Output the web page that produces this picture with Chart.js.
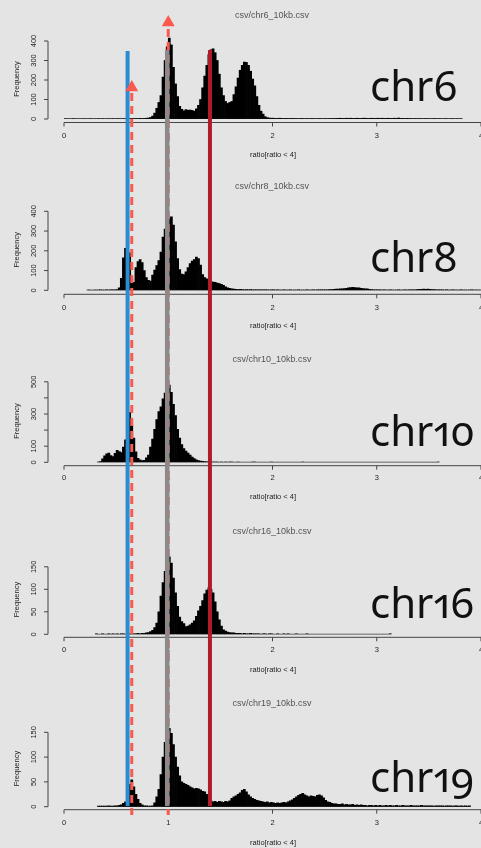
<!DOCTYPE html>
<html>
<head>
<meta charset="utf-8">
<script src="https://cdn.jsdelivr.net/npm/chart.js@4.4.1/dist/chart.umd.min.js"></script>
<style>
  html, body { margin: 0; padding: 0; background: #e4e4e4; overflow: hidden; }
  #page { position: relative; width: 481px; height: 848px; }
  #page canvas { position: absolute; left: 0; top: 0; }
  .chr { position: absolute; left: 370px; font-family: "Noto Sans"; font-size: 42px; line-height: 42px;
         font-variant-numeric: oldstyle-nums proportional-nums; color: #111; white-space: nowrap; }
</style>
</head>
<body>
<div id="page">
  <canvas id="h0" width="481" height="848"></canvas>
  <canvas id="h1" width="481" height="848"></canvas>
  <canvas id="h2" width="481" height="848"></canvas>
  <canvas id="h3" width="481" height="848"></canvas>
  <canvas id="h4" width="481" height="848"></canvas>
  <canvas id="overlay" width="481" height="848"></canvas>
</div>
<script>
// histogram bins (width 0.02 in ratio units), counts
const binWidth = 0.02;
const chromosomes = ["chr6", "chr8", "chr10", "chr16", "chr19"];
const binStarts = [0.00, 0.22, 0.32, 0.30, 0.32];

const chr6Counts = [
  1,0,0,0,1,0,0,0,0,1,0,0,1,0,0,0,1,0,1,0,0,1,0,1,0,1,1,0,1,1,2,1,1,2,2,
  2,3,2,3,4,
  5,8,15,30,55,85,120,215,300,370,
  415,380,265,180,115,65,50,42,48,45,
  46,44,40,52,70,100,160,220,275,330,
  355,360,340,300,230,160,120,90,80,85,
  90,125,165,210,250,275,292,290,275,245,
  205,170,115,70,40,25,12,7,5,4,
  4,3,3,4,3,2,3,2,2,3,2,2,1,2,2,1,2,1,2,2,1,1,2,1,1,2,1,2,2,2,
  3,3,4,3,3,4,3,4,3,3,4,3,3,4,4,3,3,4,3,3,4,3,4,3,3,4,3,3,4,3,5,3,3,2,3,
  2,2,1,2,1,2,1,1,2,1,1,1,2,1,1,1,0,1,1,0,1,1,0,1,0,1
];
const chr8Counts = [
  1,1,0,1,1,1,2,1,1,2,1,2,2,3,4,
  12,60,165,212,215,190,60,40,115,145,
  155,140,100,65,50,47,77,103,125,150,
  194,270,310,330,362,372,330,245,160,105,
  82,80,93,115,135,148,155,168,160,128,
  80,65,58,50,45,42,40,36,34,30,
  25,18,13,10,8,6,5,4,5,4,
  3,4,3,4,3,
  3,2,3,2,2,3,2,1,2,2,1,2,1,1,2,1,1,2,1,1,1,2,1,1,1,2,1,1,2,1,
  2,2,3,2,3,3,4,4,5,6,6,7,8,9,10,12,14,15,14,13,12,10,9,8,7,5,4,3,3,
  2,2,1,2,1,1,2,1,1,1,2,1,1,2,1,2,2,3,3,4,5,5,6,5,6,5,4,4,3,3,
  2,2,1,2,1,1,2,1,1,1,2,1,1,1,1,2,1,1,1,1
];
const chr10Counts = [
  2,5,22,40,52,58,42,36,55,75,
  66,60,95,140,230,310,230,150,65,25,
  15,10,12,28,45,95,145,205,265,315,
  345,395,430,460,480,435,360,290,205,150,
  110,85,70,58,45,32,23,16,11,8,
  6,4,3,2,
  2,1,1,1,0,1,0,1,0,2, 1,0,0,1,0,0,0,0,0,0, 1,2,0,0,0,0,0,0,0,1,
  0,0,0,0,0,0,0,0,0,0, 0,0,0,0,1,0,0,0,0,0, 0,0,0,0,0,0,0,0,0,0,
  0,0,0,0,0,0,0,0,0,0, 0,0,0,0,0,0,0,0,0,0, 0,0,0,0,0,0,0,0,0,0,
  0,0,0,0,0,0,0,0,0,0, 0,0,0,0,0,0,0,0,0,1
];
const chr16Counts = [
  1,0,0,1,0,0,1,0,1,0,1,0,1,1,0,1,1,1,1,1,2,
  1,2,2,3,4,6,9,15,25,50,
  85,115,140,160,172,158,125,92,62,38,
  28,24,17,18,21,25,30,40,52,62,
  75,90,98,103,100,92,72,50,32,18,
  10,7,5,4,3,3,2,2,2,1,
  2,1,1,2,1,1,1,1,0,1, 1,0,1,1,0,0,1,0,0,1, 0,1,0,0,0,1,0,0,0,0,
  1,0,0,0,0,0,0,0,0,0, 0,0,0,0,0,0,0,0,0,0, 0,0,0,0,0,0,0,0,0,0,
  0,0,0,0,0,0,0,0,0,0, 1
];
const chr19Counts = [
  1,1,1,1,1,2,1,1,2,2,3,4,
  7,10,25,45,54,40,25,15,7,4,
  2,2,1,1,2,8,20,35,65,100,
  130,150,158,148,125,100,80,62,50,47,
  45,43,40,38,36,37,36,34,31,30,
  25,18,12,10,11,9,11,10,9,11,
  10,12,17,20,22,25,28,33,35,30,
  24,20,17,15,13,12,11,10,9,10,
  8,9,8,7,8,7,8,9,8,10,
  12,14,17,20,23,25,27,24,22,20,
  22,21,20,23,24,22,18,13,10,9,
  7,6,6,5,5,6,4,5,4,4,
  5,3,4,
  3,4,3,3,2,3,3,2,3,2, 3,2,2,3,2,3,2,2,3,2, 2,3,2,2,2,3,2,2,2,2,
  3,2,2,2,2,2,1,2,2,2, 2,1,2,2,2,1,2,2,1,2, 1,2,1,2
];
const countsList = [chr6Counts, chr8Counts, chr10Counts, chr16Counts, chr19Counts];

// axis ticks
const xTicks = [0, 1, 2, 3, 4];
const yTicks = [
  [0, 100, 200, 300, 400],
  [0, 100, 200, 300, 400],
  [0, 100, 200, 300, 400, 500],
  [0, 50, 100, 150],
  [0, 50, 100, 150]
];
const yTickLabels = [
  ["0", "100", "200", "300", "400"],
  ["0", "100", "200", "300", "400"],
  ["0", "100", "", "300", "", "500"],
  ["0", "50", "100", "150"],
  ["0", "50", "100", "150"]
];
const xLabel = "ratio[ratio < 4]";

// reference ratios drawn across all panels
const markerRatios = [0.61, 0.65, 0.99, 1.0, 1.40];
const arrowRatios = [0.65, 1.0];

// page layout (pixels)
const panels = [
  { zeroY: 119.0, ppc: 0.195,  titleY: 16,  axisY: 122.5, tickY: 136,   labelY: 155,   chrBase: 101 },
  { zeroY: 290.3, ppc: 0.1975, titleY: 187, axisY: 294.3, tickY: 307.7, labelY: 325.7, chrBase: 272 },
  { zeroY: 462.3, ppc: 0.161,  titleY: 360, axisY: 465.7, tickY: 478,   labelY: 496.7, chrBase: 446 },
  { zeroY: 634.3, ppc: 0.45,   titleY: 532, axisY: 637.3, tickY: 650,   labelY: 670,   chrBase: 618 },
  { zeroY: 806.7, ppc: 0.496,  titleY: 704, axisY: 809.7, tickY: 822.7, labelY: 842.7, chrBase: 792 }
];
const lineSpans = [[51, 806], [93, 815], [50, 806], [29, 815], [50, 806]];
const arrowY = [87.5, 22.5];

const rAxes = {
  id: "rAxes",
  afterDraw(chart, args, opts) {
    const i = opts.panel;
    const p = panels[i];
    const { ctx } = chart;
    const x = chart.scales.x, y = chart.scales.y;
    ctx.save();
    ctx.strokeStyle = "#444";
    ctx.lineWidth = 1;

    // title
    ctx.font = '9px "Liberation Sans"';
    ctx.fillStyle = "#555";
    ctx.textAlign = "center";
    ctx.textBaseline = "middle";
    ctx.fillText("csv/" + chromosomes[i] + "_10kb.csv", 272, p.titleY);

    // x axis
    ctx.fillStyle = "#222";
    ctx.beginPath();
    ctx.moveTo(x.getPixelForValue(xTicks[0]), p.axisY);
    ctx.lineTo(x.getPixelForValue(xTicks[xTicks.length - 1]), p.axisY);
    xTicks.forEach(t => {
      const px = x.getPixelForValue(t);
      ctx.moveTo(px, p.axisY);
      ctx.lineTo(px, p.axisY + 4);
    });
    ctx.stroke();
    ctx.font = '7.5px "Liberation Sans"';
    xTicks.forEach(t => ctx.fillText(String(t), x.getPixelForValue(t), p.tickY));
    ctx.fillText(xLabel, 273, p.labelY);

    // y axis
    const ticks = yTicks[i];
    const y0 = y.getPixelForValue(ticks[0]);
    const y1 = y.getPixelForValue(ticks[ticks.length - 1]);
    ctx.beginPath();
    ctx.moveTo(48, y0);
    ctx.lineTo(48, y1);
    ticks.forEach(t => {
      const py = y.getPixelForValue(t);
      ctx.moveTo(48, py);
      ctx.lineTo(44, py);
    });
    ctx.stroke();
    ticks.forEach((t, k) => {
      const label = yTickLabels[i][k];
      if (!label) return;
      ctx.save();
      ctx.translate(34, y.getPixelForValue(t));
      ctx.rotate(-Math.PI / 2);
      ctx.fillText(label, 0, 0);
      ctx.restore();
    });
    ctx.save();
    ctx.translate(17, (y0 + y1) / 2 - 1);
    ctx.rotate(-Math.PI / 2);
    ctx.fillText("Frequency", 0, 0);
    ctx.restore();
    ctx.restore();
  }
};

function histChart(i) {
  const p = panels[i];
  const start = binStarts[i];
  const counts = countsList[i];
  const bars = counts.map((c, k) => ({ x: start + (k + 0.5) * binWidth, y: c }));
  const hi = start + counts.length * binWidth;
  const top = p.titleY + 8;
  const yMax = (p.zeroY - top) / p.ppc;

  new Chart(document.getElementById("h" + i), {
    type: "bar",
    data: {
      datasets: [
        { data: bars, backgroundColor: "#000", borderWidth: 0,
          barPercentage: 1, categoryPercentage: 1, order: 1 },
        { type: "line", data: [{ x: start, y: 0 }, { x: hi, y: 0 }],
          borderColor: "#111", borderWidth: 1, pointRadius: 0, order: 0 }
      ]
    },
    options: {
      responsive: false,
      animation: false,
      layout: { autoPadding: false, padding: { left: 64, right: 0, top: top, bottom: 848 - p.zeroY } },
      scales: {
        x: { type: "linear", min: 0, max: 4, offset: false, display: false },
        y: { min: 0, max: yMax, display: false }
      },
      plugins: {
        legend: { display: false },
        tooltip: { enabled: false },
        rAxes: { panel: i }
      }
    },
    plugins: [rAxes]
  });
}

document.addEventListener("DOMContentLoaded", () => {
  chromosomes.forEach((c, i) => histChart(i));

  const salmon = "#fa5a4e";
  const lineColors = ["#2b8cd4", salmon, "#8a8a8a", salmon, "#b21b2c"];
  const lineWidths = [4, 3, 4.5, 3, 4];
  const dashed = [false, true, false, true, false];
  const lineOrder = [2, 3, 1, 3, 2];

  const datasets = markerRatios.map((r, k) => ({
    data: [{ x: r, y: lineSpans[k][0] }, { x: r, y: lineSpans[k][1] }],
    borderColor: lineColors[k],
    borderWidth: lineWidths[k],
    borderDash: dashed[k] ? [8, 5] : [],
    pointRadius: 0,
    order: lineOrder[k]
  }));
  datasets.push({
    data: arrowRatios.map((r, k) => ({ x: r, y: arrowY[k] })),
    showLine: false,
    pointStyle: "triangle",
    pointRadius: 7.5,
    backgroundColor: salmon,
    borderWidth: 0,
    order: 0
  });

  new Chart(document.getElementById("overlay"), {
    type: "line",
    data: { datasets: datasets },
    options: {
      responsive: false,
      animation: false,
      layout: { autoPadding: false, padding: { left: 64, right: 0, top: 0, bottom: 0 } },
      scales: {
        x: { type: "linear", min: 0, max: 4, display: false },
        y: { type: "linear", min: 0, max: 848, reverse: true, display: false }
      },
      plugins: { legend: { display: false }, tooltip: { enabled: false } }
    }
  });

  const page = document.getElementById("page");
  chromosomes.forEach((c, i) => {
    const d = document.createElement("div");
    d.className = "chr";
    d.textContent = c;
    d.style.top = (panels[i].chrBase - 37.3) + "px";
    page.appendChild(d);
  });
});
</script>
</body>
</html>
